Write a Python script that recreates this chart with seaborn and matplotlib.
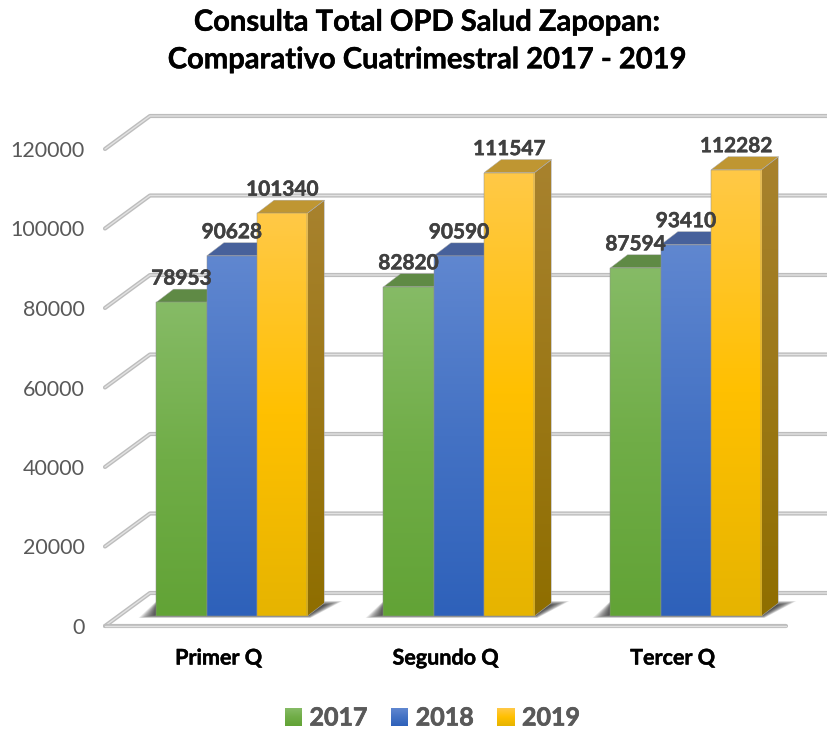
import numpy as np
import pandas as pd
import seaborn as sns
import matplotlib.pyplot as plt
import matplotlib.patheffects as pe
from matplotlib.colors import LinearSegmentedColormap
from matplotlib.image import BboxImage
from matplotlib.patches import Patch, Polygon

# datos del grafico
trimestres = ['Primer Q', 'Segundo Q', 'Tercer Q']
anios = ['2017', '2018', '2019']
consulta_2017 = [78953, 82820, 87594]
consulta_2018 = [90628, 90590, 93410]
consulta_2019 = [101340, 111547, 112282]
y_ticks = [0, 20000, 40000, 60000, 80000, 100000, 120000]

W, H = 828, 732
PX_X = 3 / 681       # unidades de categoria por pixel
PX_Y = 120000 / 477  # unidades de valor por pixel

# degradados: arriba, medio, abajo
frente = {'2017': ['#86BB66', '#70AD47', '#62A336'],
          '2018': ['#6087D0', '#4472C4', '#2E61BA'],
          '2019': ['#FFC947', '#FFC000', '#E6B400']}
lado = {'2017': ['#64873F', '#4E7A2E'],
        '2018': ['#45628F', '#234A88'],
        '2019': ['#A8822E', '#8F6E00']}
techo = {'2017': '#5F8A45', '2018': '#47619B', '2019': '#BF9632'}

df = pd.DataFrame({
    'trimestre': trimestres * 3,
    'anio': np.repeat(anios, 3),
    'consultas': consulta_2017 + consulta_2018 + consulta_2019,
})

sns.set_style('white')
plt.rcParams['font.family'] = ['Lato', 'DejaVu Sans']

fig = plt.figure(figsize=(W / 100, H / 100), dpi=100, facecolor='white')
grueso = [pe.withStroke(linewidth=0.35, foreground='#404040')]


def caja(x_px, base_px):
    return [x_px / W, (H - base_px) / H, 681 / W, 477 / H]


def degradado(ax, colores, extent, clip, z):
    cmap = LinearSegmentedColormap.from_list('g', colores)
    im = ax.imshow(np.linspace(0, 1, 256).reshape(-1, 1), cmap=cmap, aspect='auto',
                   extent=extent, origin='upper', zorder=z)
    im.set_clip_path(clip)
    return im


# pared y piso
ax = fig.add_axes(caja(105, 626))
ax.set_xlim(-0.5, 2.5)
ax.set_ylim(0, 120000)
ax.patch.set_visible(False)
sns.despine(ax=ax, left=True, bottom=True)
ax.set_xticks(range(3), trimestres, fontsize=15.5, fontweight='bold', color='black')
ax.set_yticks(y_ticks, [str(v) for v in y_ticks], fontsize=15.5, color='#595959')
ax.tick_params(axis='x', length=0, pad=15.5)
ax.tick_params(axis='y', length=0, pad=14.5)
for t in ax.get_xticklabels():
    t.set_path_effects([pe.withStroke(linewidth=0.3, foreground='black')])

WALL_X, WALL_Y = 45 * PX_X, 33 * PX_Y
for v in y_ticks:
    xs = [-0.5, -0.5 + WALL_X, 2.8]
    ys = [v, v + WALL_Y, v + WALL_Y]
    ax.plot(xs, ys, color='#bdbdbd', lw=3, clip_on=False, solid_capstyle='round')
    ax.plot(xs, ys, color='#e2e2e2', lw=1, clip_on=False, solid_capstyle='round')
ax.plot([-0.5, 2.5], [0, 0], color='#bdbdbd', lw=3, clip_on=False, solid_capstyle='round')
ax.plot([-0.5, 2.5], [0, 0], color='#e2e2e2', lw=1, clip_on=False, solid_capstyle='round')

# barras, corridas hacia el fondo del piso
ax2 = fig.add_axes(caja(118.5, 616))
ax2.patch.set_visible(False)
sns.barplot(data=df, x='trimestre', y='consultas', hue='anio', order=trimestres,
            hue_order=anios, palette=[frente[a][1] for a in anios], width=151 / 227,
            gap=0, saturation=1, edgecolor='#8f8f8f', linewidth=0.35, legend=False, ax=ax2)
ax2.set_axis_off()

DX, DY = 17 * PX_X, 13 * PX_Y

# sombra en el piso, capas translucidas para difuminar el borde
primeras = ax2.containers[0]
ultimas = ax2.containers[2]
for b0, b1 in zip(primeras, ultimas):
    x0, x1 = b0.get_x(), b1.get_x() + b1.get_width()
    for g in np.linspace(1, 0, 14):
        pts = [(x0 - (1 + 17 * g) * PX_X, (1 - 3 * g) * PX_Y), (x1 + (1 + 2 * g) * PX_X, (1 - 3 * g) * PX_Y),
               (x1 + (17 + 18 * g) * PX_X, (11 + 4 * g) * PX_Y), (x0, (11 + 4 * g) * PX_Y)]
        ax2.add_patch(Polygon(pts, closed=True, fc='black', ec='none', alpha=0.075,
                              clip_on=False, zorder=1))

z = 3
for anio, cont in zip(anios, ax2.containers):
    for bar in cont:
        x0, x1, h = bar.get_x(), bar.get_x() + bar.get_width(), bar.get_height()
        side = Polygon([(x1, 0), (x1 + DX, DY), (x1 + DX, h + DY), (x1, h)], closed=True,
                       fc='none', ec='#a8a8a8', lw=0.4, zorder=z + 2)
        ax2.add_patch(side)
        degradado(ax2, lado[anio], (x1, x1 + DX, 0, h + DY), side, z + 1)
        ax2.add_patch(Polygon([(x0, h), (x0 + DX, h + DY), (x1 + DX, h + DY), (x1, h)],
                              closed=True, fc=techo[anio], ec='#a8a8a8', lw=0.3, zorder=z + 1))
        degradado(ax2, frente[anio], (x0, x1, 0, h), bar, z + 2)
        bar.set_facecolor('none')
        bar.set_zorder(z + 3)
    z += 4

for cont in ax2.containers:
    for bar in cont:
        h = bar.get_height()
        ax2.text(bar.get_x() + bar.get_width() / 2, h + 23.5 * PX_Y, f'{h:.0f}', ha='center',
                 va='center', fontsize=15, fontweight='bold', color='#404040', zorder=40,
                 path_effects=grueso)

ax2.set_xlim(-0.5, 2.5)
ax2.set_ylim(0, 120000)

fig.text(427 / W, 1 - 41.5 / H, 'Consulta Total OPD Salud Zapopan:\nComparativo Cuatrimestral 2017 - 2019',
         ha='center', va='center', fontsize=21, fontweight='bold', color='black', linespacing=1.55,
         path_effects=[pe.withStroke(linewidth=0.3, foreground='black')])

handles = [Patch(facecolor=frente[a][1], label=a) for a in anios]
leg = fig.legend(handles=handles, ncol=3, loc='center', bbox_to_anchor=(432.5 / W, 1 - 718 / H),
                 frameon=False, handlelength=0.68, handleheight=0.72, handletextpad=0.3,
                 columnspacing=0.95, prop={'size': 18, 'weight': 'bold', 'family': 'Lato'})
for t in leg.get_texts():
    t.set_color('#595959')
    t.set_path_effects([pe.withStroke(linewidth=0.5, foreground='#595959')])

# degradado en las muestras de la leyenda
fig.canvas.draw()
for a, p in zip(anios, leg.get_patches()):
    img = BboxImage(p.get_window_extent(), cmap=LinearSegmentedColormap.from_list('g', frente[a]),
                    origin='upper', zorder=10)
    img.set_data(np.linspace(0, 1, 64).reshape(-1, 1))
    fig.add_artist(img)

fig.savefig('out.png', dpi=100)
